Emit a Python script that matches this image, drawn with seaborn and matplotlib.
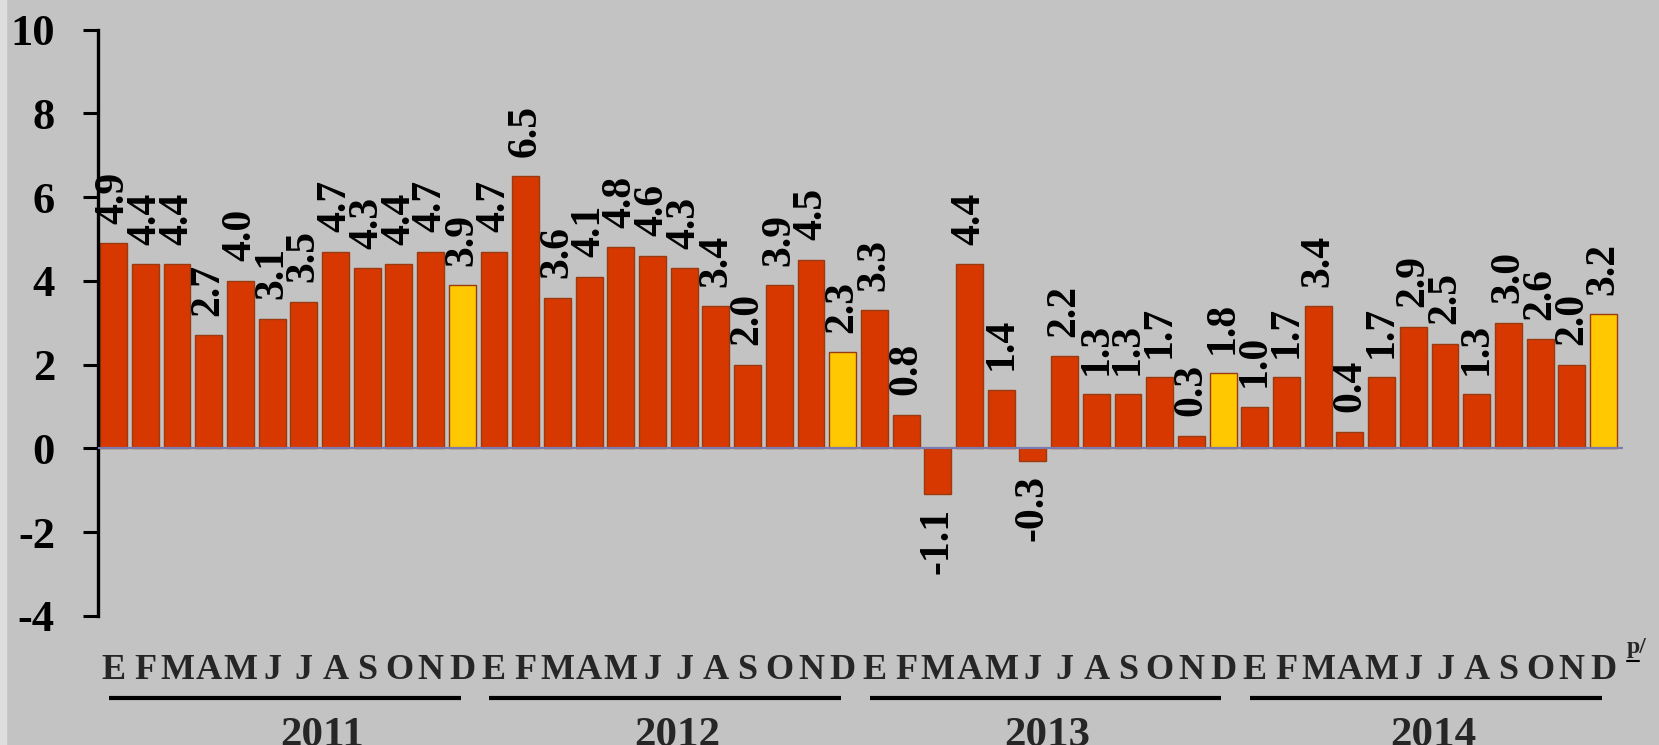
import numpy as np
import pandas as pd
import seaborn as sns
import matplotlib
matplotlib.use("Agg")
from matplotlib import pyplot as plt

# monthly values, E..D per year (the December bar is highlighted)
years = ["2011", "2012", "2013", "2014"]
months = ["E", "F", "M", "A", "M", "J", "J", "A", "S", "O", "N", "D"]
vals_2011 = [4.9, 4.4, 4.4, 2.7, 4.0, 3.1, 3.5, 4.7, 4.3, 4.4, 4.7, 3.9]
vals_2012 = [4.7, 6.5, 3.6, 4.1, 4.8, 4.6, 4.3, 3.4, 2.0, 3.9, 4.5, 2.3]
vals_2013 = [3.3, 0.8, -1.1, 4.4, 1.4, -0.3, 2.2, 1.3, 1.3, 1.7, 0.3, 1.8]
vals_2014 = [1.0, 1.7, 3.4, 0.4, 1.7, 2.9, 2.5, 1.3, 3.0, 2.6, 2.0, 3.2]
yticks = [10, 8, 6, 4, 2, 0, -2, -4]

all_vals = vals_2011 + vals_2012 + vals_2013 + vals_2014
df = pd.DataFrame({
    "idx": np.arange(len(all_vals)),
    "val": all_vals,
    "mes": months * len(years),
    "kind": ["dic" if m == 11 else "mes" for _ in years for m in range(12)],
})

sns.set_style("white")
plt.rcParams["font.family"] = ["Liberation Serif", "DejaVu Serif"]
plt.rcParams["font.weight"] = "bold"
plt.rcParams["axes.unicode_minus"] = False

bg = "#c3c3c3"
fig = plt.figure(figsize=(16.59, 7.45), dpi=100, facecolor=bg)
ax = fig.add_axes([0.0591, 0.1732, 0.9189, 0.7872])
ax.set_facecolor(bg)
fig.add_artist(plt.Rectangle((0, 0), 0.0036, 1, transform=fig.transFigure,
                             color="#dedede", zorder=0))

sns.barplot(data=df, x="idx", y="val", hue="kind",
            palette={"mes": "#d63800", "dic": "#ffc800"}, saturation=1,
            dodge=False, width=0.85, legend=False, ax=ax,
            edgecolor="#9a3a10", linewidth=1.0, zorder=2)

ax.axhline(0, color="#7b7bb0", lw=1.6, zorder=3)

# value labels, rotated
for i, v in enumerate(all_vals):
    off = 14 if v >= 0 else -10
    ax.annotate(f"{v:.1f}", (i, v), xytext=(0, off), textcoords="offset points",
                rotation=90, ha="center", va="bottom" if v >= 0 else "top",
                fontsize=30, fontweight="bold", color="black", zorder=4)

ax.set_ylim(-4, 10)
ax.set_xlim(-0.49, 47.6)
ax.set_yticks(yticks)
ax.set_yticklabels([str(t) for t in yticks])
ax.tick_params(axis="y", left=True, direction="out", length=11, width=2.2,
               pad=20, labelsize=32, colors="black")
for lab in ax.get_yticklabels():
    lab.set_fontweight("bold")
ax.set_xticks([])
ax.set_xlabel("")
ax.set_ylabel("")

for s in ["top", "right", "bottom"]:
    ax.spines[s].set_visible(False)
ax.spines["left"].set_linewidth(2.4)
ax.spines["left"].set_color("black")

# month letters under each bar
trans = ax.get_xaxis_transform()
for i, m in enumerate(df["mes"]):
    ax.text(i, -0.107, m, transform=trans, ha="center", va="baseline",
            fontsize=26, fontweight="bold", clip_on=False)
ax.text(47.72, -0.064, "p/", transform=trans, ha="left", va="baseline",
        fontsize=17, fontweight="bold", clip_on=False)
ax.plot([47.74, 48.12], [-0.077, -0.077], transform=trans, color="black",
        lw=1.5, clip_on=False)

# year brackets
year_text_off = [6.58, 5.78, 5.45, 5.62]
for k, yr in enumerate(years):
    x0 = 12 * k
    ax.plot([x0 - 0.15, x0 + 10.95], [-0.14, -0.14], transform=trans,
            color="black", lw=3, clip_on=False, solid_capstyle="butt")
    ax.text(x0 + year_text_off[k], -0.222, yr, transform=trans, ha="center",
            va="baseline", fontsize=31, fontweight="bold", clip_on=False)

fig.savefig("out.png", dpi=100, facecolor=bg)
